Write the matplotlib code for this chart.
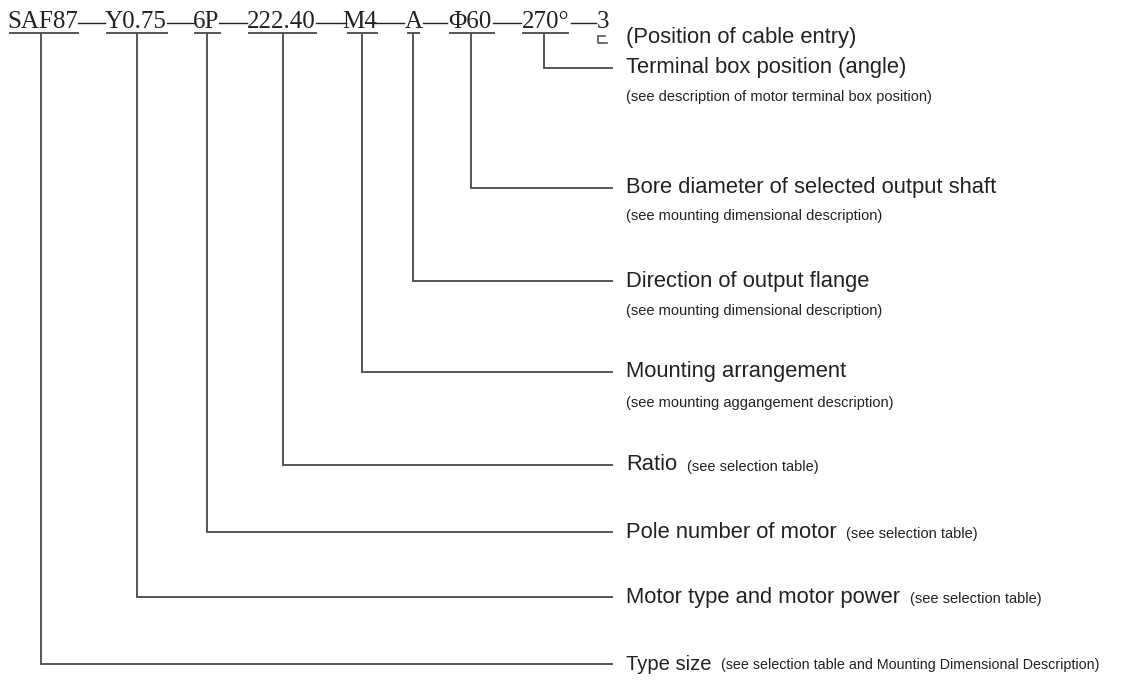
import matplotlib
matplotlib.use("Agg")
import matplotlib.pyplot as plt

# ---- data ----
code_tokens = ["SAF87", "Y0.75", "6P", "222.40", "M4", "A", "Φ60", "270°", "3"]
labels = [
    "Terminal box position (angle)",
    "Bore diameter of selected output shaft",
    "Direction of output flange",
    "Mounting arrangement",
    "Ratio",
    "Pole number of motor",
    "Motor type and motor power",
    "Type size",
]
sub_labels = [
    "(see description of motor terminal box position)",
    "(see mounting dimensional description)",
    "(see mounting dimensional description)",
    "(see mounting aggangement description)",
    "",
    "",
    "",
    "",
]
inline_notes = [
    "",
    "",
    "",
    "",
    "(see selection table)",
    "(see selection table)",
    "(see selection table)",
    "(see selection table and Mounting Dimensional Description)",
]
cable_entry_label = "(Position of cable entry)"
token_for_label = ["270°", "Φ60", "A", "M4", "222.40", "6P", "Y0.75", "SAF87"]

# ---- layout (pixel coordinates) ----
W, H = 1126, 683
token_left = [8, 106, 195, 248, 347, 405, 448, 522, 597]
token_right = [77, 166, 218, 315, 373, 422, 492, 570, 608]
underline_span = [(10, 78), (107, 167), (195, 220), (249, 316), (348, 377),
                  (408, 419), (450, 494), (523, 568)]
stem_x = [41, 137, 207, 283, 362, 413, 471, 544]
label_y = [68, 188, 281, 372, 465, 532, 597, 664]
sub_y = [97, 216, 311, 403]
label_fs = [15.8, 15.8, 15.8, 15.8, 15.8, 15.8, 15.8, 14.5]
inline_fs = [10.5, 10.5, 10.5, 10.5, 10.5, 10.5, 10.5, 10.3]
inline_gap = [7, 7, 7, 7, 7, 7, 7, 7]
header_y = 22
underline_y = 33
line_end_x = 612
text_x = 626
line_color = "#555555"
text_color = "#222222"

fig = plt.figure(figsize=(W / 100, H / 100), dpi=100)
ax = fig.add_axes([0, 0, 1, 1])
ax.set_xlim(0, W)
ax.set_ylim(H, 0)
ax.axis("off")

serif = ["Liberation Serif", "DejaVu Serif"]
sans = ["Liberation Sans", "DejaVu Sans"]

# header code tokens
for i, tok in enumerate(code_tokens):
    cx = (token_left[i] + token_right[i]) / 2
    ax.text(cx, header_y, tok, family=serif, fontsize=18, color=text_color,
            ha="center", va="center")
# dashes between tokens
for i in range(len(code_tokens) - 1):
    x0 = token_right[i] + 1
    x1 = token_left[i + 1] - 1
    ax.plot([x0, x1], [header_y + 1, header_y + 1], color=text_color, lw=1.0)

# underlines
for (a, b) in underline_span:
    ax.plot([a, b], [underline_y, underline_y], color=line_color, lw=1.4)

# leader lines
tok_index = {t: i for i, t in enumerate(code_tokens)}
for k, lab in enumerate(labels):
    i = tok_index[token_for_label[k]]
    sx = stem_x[i]
    y = label_y[k]
    ax.plot([sx, sx, line_end_x], [underline_y, y, y], color=line_color,
            lw=1.4, solid_joinstyle="miter")
    t = ax.text(text_x, y, lab, family=sans, fontsize=label_fs[k],
                color=text_color, ha="left", va="center")
    if k < len(sub_y) and sub_labels[k]:
        ax.text(text_x, sub_y[k], sub_labels[k], family=sans, fontsize=10.5,
                color=text_color, ha="left", va="center")
    if inline_notes[k]:
        ax.annotate(inline_notes[k], xy=(1, 0), xycoords=t,
                    xytext=(inline_gap[k], 1), textcoords="offset points",
                    family=sans, fontsize=inline_fs[k], color=text_color,
                    ha="left", va="bottom")

# cable entry hook under "3"
ax.plot([605, 598, 598, 607], [36, 36, 43, 43], color=line_color, lw=1.2)
ax.text(text_x, 38, cable_entry_label, family=sans, fontsize=15.8,
        color=text_color, ha="left", va="center")

fig.savefig("out.png", dpi=100, facecolor="white")
